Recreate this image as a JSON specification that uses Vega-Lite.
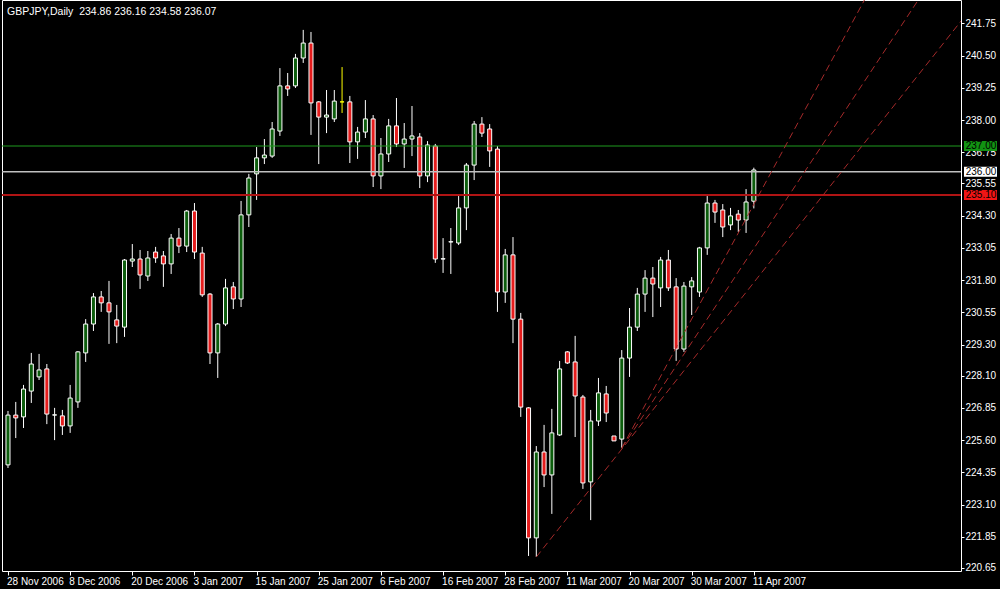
{
  "$schema": "https://vega.github.io/schema/vega-lite/v6.json",
  "width": 959,
  "height": 571,
  "autosize": {"type": "none"},
  "padding": {"left": 2, "top": 0, "right": 39, "bottom": 18},
  "background": "#000000",
  "config": {"view": {"stroke": "#ffffff", "strokeWidth": 1}, "font": "Liberation Sans",
    "axis": {"labelOverlap": false, "labelBound": false, "labelFlush": false, "grid": false}},
  "title": {"text": "GBPJPY,Daily\u00a0 234.86 236.16 234.58 236.07", "anchor": "start", "frame": "group", "color": "#ffffff", "font": "Liberation Sans", "fontSize": 10.5, "fontWeight": "normal", "baseline": "top", "offset": -5, "dx": 5, "dy": 12},
  "datasets": {
    "candles": [
      {"i":0,"date":"2006-11-28","open":224.64,"high":226.73,"low":224.52,"close":226.57},
      {"i":1,"date":"2006-11-29","open":226.57,"high":227.08,"low":225.68,"close":226.46},
      {"i":2,"date":"2006-11-30","open":226.50,"high":227.74,"low":226.07,"close":227.58},
      {"i":3,"date":"2006-12-01","open":227.50,"high":228.98,"low":227.04,"close":228.55},
      {"i":4,"date":"2006-12-04","open":228.05,"high":228.94,"low":227.93,"close":228.32},
      {"i":5,"date":"2006-12-05","open":228.36,"high":228.55,"low":226.22,"close":226.61},
      {"i":6,"date":"2006-12-06","open":226.57,"high":226.85,"low":225.60,"close":226.58},
      {"i":7,"date":"2006-12-07","open":226.54,"high":226.77,"low":225.80,"close":226.15},
      {"i":8,"date":"2006-12-08","open":226.15,"high":227.74,"low":225.88,"close":227.23},
      {"i":9,"date":"2006-12-11","open":227.08,"high":229.05,"low":226.85,"close":229.02},
      {"i":10,"date":"2006-12-12","open":228.98,"high":230.29,"low":228.63,"close":230.10},
      {"i":11,"date":"2006-12-13","open":230.10,"high":231.30,"low":229.83,"close":231.15},
      {"i":12,"date":"2006-12-14","open":231.15,"high":231.38,"low":230.57,"close":230.92},
      {"i":13,"date":"2006-12-15","open":230.92,"high":231.77,"low":229.33,"close":230.57},
      {"i":14,"date":"2006-12-18","open":230.26,"high":230.84,"low":229.36,"close":230.02},
      {"i":15,"date":"2006-12-19","open":229.98,"high":232.62,"low":229.60,"close":232.58},
      {"i":16,"date":"2006-12-20","open":232.54,"high":233.20,"low":232.31,"close":232.62},
      {"i":17,"date":"2006-12-21","open":232.62,"high":232.97,"low":231.46,"close":232.00},
      {"i":18,"date":"2006-12-22","open":231.96,"high":232.93,"low":231.77,"close":232.66},
      {"i":19,"date":"2006-12-26","open":232.89,"high":233.09,"low":232.47,"close":232.66},
      {"i":20,"date":"2006-12-27","open":232.74,"high":232.93,"low":231.54,"close":232.43},
      {"i":21,"date":"2006-12-28","open":232.43,"high":233.59,"low":232.04,"close":233.43},
      {"i":22,"date":"2006-12-29","open":233.43,"high":233.82,"low":232.85,"close":233.12},
      {"i":23,"date":"2007-01-02","open":233.12,"high":234.52,"low":232.89,"close":234.48},
      {"i":24,"date":"2007-01-03","open":234.48,"high":234.79,"low":232.62,"close":232.89},
      {"i":25,"date":"2007-01-04","open":232.85,"high":233.09,"low":231.15,"close":231.23},
      {"i":26,"date":"2007-01-05","open":231.26,"high":231.30,"low":228.55,"close":228.98},
      {"i":27,"date":"2007-01-08","open":228.98,"high":230.14,"low":228.01,"close":230.10},
      {"i":28,"date":"2007-01-09","open":230.10,"high":231.85,"low":230.02,"close":231.50},
      {"i":29,"date":"2007-01-10","open":231.54,"high":231.73,"low":230.68,"close":231.07},
      {"i":30,"date":"2007-01-11","open":231.07,"high":234.87,"low":230.76,"close":234.33},
      {"i":31,"date":"2007-01-12","open":234.33,"high":235.92,"low":233.86,"close":235.76},
      {"i":32,"date":"2007-01-15","open":235.92,"high":236.96,"low":234.91,"close":236.54},
      {"i":33,"date":"2007-01-16","open":236.54,"high":237.27,"low":236.30,"close":236.65},
      {"i":34,"date":"2007-01-17","open":236.61,"high":237.93,"low":236.54,"close":237.66},
      {"i":35,"date":"2007-01-18","open":237.58,"high":240.02,"low":237.39,"close":239.33},
      {"i":36,"date":"2007-01-19","open":239.33,"high":239.83,"low":238.94,"close":239.21},
      {"i":37,"date":"2007-01-22","open":239.33,"high":240.57,"low":239.25,"close":240.41},
      {"i":38,"date":"2007-01-23","open":240.41,"high":241.50,"low":240.22,"close":240.99},
      {"i":39,"date":"2007-01-24","open":240.99,"high":241.42,"low":237.43,"close":238.67},
      {"i":40,"date":"2007-01-25","open":238.71,"high":238.74,"low":236.30,"close":238.12},
      {"i":41,"date":"2007-01-26","open":238.12,"high":239.17,"low":237.50,"close":238.20},
      {"i":42,"date":"2007-01-29","open":238.05,"high":239.17,"low":237.93,"close":238.74},
      {"i":43,"date":"2007-01-30","open":238.71,"high":240.06,"low":238.28,"close":238.71},
      {"i":44,"date":"2007-01-31","open":238.71,"high":238.94,"low":236.34,"close":237.16},
      {"i":45,"date":"2007-02-01","open":237.16,"high":237.74,"low":236.50,"close":237.54},
      {"i":46,"date":"2007-02-02","open":237.54,"high":238.78,"low":237.31,"close":238.05},
      {"i":47,"date":"2007-02-05","open":238.05,"high":238.20,"low":235.41,"close":235.84},
      {"i":48,"date":"2007-02-06","open":235.84,"high":237.31,"low":235.33,"close":236.69},
      {"i":49,"date":"2007-02-07","open":236.69,"high":238.05,"low":236.38,"close":237.78},
      {"i":50,"date":"2007-02-08","open":237.78,"high":238.86,"low":236.96,"close":237.08},
      {"i":51,"date":"2007-02-09","open":237.08,"high":237.89,"low":236.15,"close":237.27},
      {"i":52,"date":"2007-02-12","open":237.27,"high":238.55,"low":236.61,"close":237.39},
      {"i":53,"date":"2007-02-13","open":237.35,"high":237.50,"low":235.37,"close":235.84},
      {"i":54,"date":"2007-02-14","open":235.84,"high":237.19,"low":235.60,"close":237.04},
      {"i":55,"date":"2007-02-15","open":237.00,"high":237.08,"low":232.47,"close":232.62},
      {"i":56,"date":"2007-02-16","open":232.62,"high":233.43,"low":232.08,"close":232.63},
      {"i":57,"date":"2007-02-19","open":233.28,"high":233.82,"low":232.04,"close":233.29},
      {"i":58,"date":"2007-02-20","open":233.24,"high":235.06,"low":233.16,"close":234.60},
      {"i":59,"date":"2007-02-21","open":234.60,"high":236.34,"low":233.74,"close":236.26},
      {"i":60,"date":"2007-02-22","open":236.26,"high":237.97,"low":235.68,"close":237.85},
      {"i":61,"date":"2007-02-23","open":237.85,"high":238.12,"low":237.35,"close":237.50},
      {"i":62,"date":"2007-02-26","open":237.66,"high":237.85,"low":236.19,"close":236.81},
      {"i":63,"date":"2007-02-27","open":236.88,"high":237.00,"low":230.57,"close":231.34},
      {"i":64,"date":"2007-02-28","open":231.34,"high":233.01,"low":230.92,"close":232.78},
      {"i":65,"date":"2007-03-01","open":232.78,"high":233.47,"low":229.36,"close":230.29},
      {"i":66,"date":"2007-03-02","open":230.29,"high":230.53,"low":226.50,"close":226.88},
      {"i":67,"date":"2007-03-05","open":226.85,"high":226.88,"low":221.11,"close":221.81},
      {"i":68,"date":"2007-03-06","open":221.81,"high":225.37,"low":221.07,"close":225.14},
      {"i":69,"date":"2007-03-07","open":225.14,"high":226.19,"low":223.78,"close":224.25},
      {"i":70,"date":"2007-03-08","open":224.25,"high":226.81,"low":222.74,"close":225.88},
      {"i":71,"date":"2007-03-09","open":225.80,"high":228.67,"low":225.76,"close":228.36},
      {"i":72,"date":"2007-03-11","open":229.02,"high":229.05,"low":228.55,"close":228.59},
      {"i":73,"date":"2007-03-12","open":228.63,"high":229.64,"low":225.72,"close":227.31},
      {"i":74,"date":"2007-03-13","open":227.27,"high":227.35,"low":223.71,"close":223.94},
      {"i":75,"date":"2007-03-14","open":223.98,"high":226.77,"low":222.50,"close":226.34},
      {"i":76,"date":"2007-03-15","open":226.34,"high":228.01,"low":226.15,"close":227.43},
      {"i":77,"date":"2007-03-16","open":227.39,"high":227.70,"low":226.30,"close":226.65},
      {"i":78,"date":"2007-03-18","open":225.76,"high":225.76,"low":225.57,"close":225.57},
      {"i":79,"date":"2007-03-19","open":225.64,"high":229.09,"low":225.29,"close":228.78},
      {"i":80,"date":"2007-03-20","open":228.78,"high":230.72,"low":228.05,"close":229.98},
      {"i":81,"date":"2007-03-21","open":229.98,"high":231.50,"low":229.83,"close":231.26},
      {"i":82,"date":"2007-03-22","open":231.26,"high":232.19,"low":230.57,"close":231.88},
      {"i":83,"date":"2007-03-23","open":231.88,"high":232.31,"low":230.37,"close":231.65},
      {"i":84,"date":"2007-03-26","open":231.50,"high":232.70,"low":230.76,"close":232.58},
      {"i":85,"date":"2007-03-27","open":232.58,"high":232.97,"low":231.38,"close":231.50},
      {"i":86,"date":"2007-03-28","open":231.54,"high":231.88,"low":228.67,"close":229.13},
      {"i":87,"date":"2007-03-29","open":229.13,"high":231.73,"low":229.02,"close":231.57},
      {"i":88,"date":"2007-03-30","open":231.54,"high":231.92,"low":230.45,"close":231.77},
      {"i":89,"date":"2007-04-02","open":231.34,"high":233.09,"low":231.15,"close":233.05},
      {"i":90,"date":"2007-04-03","open":233.05,"high":235.06,"low":232.78,"close":234.79},
      {"i":91,"date":"2007-04-04","open":234.79,"high":234.91,"low":234.02,"close":234.44},
      {"i":92,"date":"2007-04-05","open":234.52,"high":234.75,"low":233.47,"close":233.86},
      {"i":93,"date":"2007-04-06","open":233.94,"high":234.60,"low":233.74,"close":234.29},
      {"i":94,"date":"2007-04-09","open":234.36,"high":234.52,"low":233.67,"close":234.13},
      {"i":95,"date":"2007-04-10","open":234.13,"high":235.33,"low":233.63,"close":234.83},
      {"i":96,"date":"2007-04-11","open":234.86,"high":236.16,"low":234.58,"close":236.07}
    ],
    "levels": [
      {"kind": "resistance", "price": 237.00},
      {"kind": "bid", "price": 236.00},
      {"kind": "support", "price": 235.10}
    ],
    "trend": [
      {"line": "t1", "i": 68, "price": 221.07},
      {"line": "t1", "i": 126, "price": 243.11},
      {"line": "t2", "i": 79, "price": 225.29},
      {"line": "t2", "i": 120, "price": 243.95},
      {"line": "t3", "i": 79, "price": 225.29},
      {"line": "t3", "i": 112, "price": 243.64}
    ]
  },
  "layer": [
    {
      "data": {"name": "candles"},
      "mark": {"type": "rule", "strokeWidth": 1},
      "encoding": {
        "x": {"field": "i", "type": "quantitative",
          "scale": {"domain": [-0.1275, 122.02], "nice": false, "zero": false},
          "axis": {"values": [0, 8, 16, 24, 32, 40, 48, 56, 64, 72, 80, 88, 96], "tickCount": 40,
            "labelExpr": "['28 Nov 2006','8 Dec 2006','20 Dec 2006','3 Jan 2007','15 Jan 2007','25 Jan 2007','6 Feb 2007','16 Feb 2007','28 Feb 2007','11 Mar 2007','20 Mar 2007','30 Mar 2007','11 Apr 2007'][round(datum.value/8)]",
            "domain": false, "grid": false, "ticks": true, "tickColor": "#ffffff", "tickSize": 4,
            "labelColor": "#ffffff", "labelFont": "Liberation Sans", "labelFontSize": 10,
            "labelAlign": "left", "labelBaseline": "top", "labelPadding": 1, "labelOffset": -1.5,
            "labelOverlap": false, "labelBound": false, "labelFlush": false, "title": null}},
        "y": {"field": "low", "type": "quantitative",
          "scale": {"domain": [220.527, 242.659], "nice": false, "zero": false},
          "axis": {"orient": "right", "tickCount": 40,
            "values": [241.75, 240.5, 239.25, 238, 236.75, 235.55, 234.3, 233.05, 231.8, 230.55, 229.3, 228.1, 226.85, 225.6, 224.35, 223.1, 221.85, 220.65],
            "format": ".2f", "domain": false, "grid": false, "tickColor": "#ffffff", "tickSize": 3,
            "labelColor": "#ffffff", "labelFont": "Liberation Sans", "labelFontSize": 10, "labelPadding": 1,
            "labelOverlap": false, "labelBound": false, "labelFlush": false, "title": null}},
        "y2": {"field": "high"},
        "color": {"condition": {"test": "datum.open == datum.close", "value": "#ffff00"}, "value": "#ffffff"}
      }
    },
    {
      "data": {"name": "candles"},
      "mark": {"type": "bar", "width": 4, "strokeWidth": 1},
      "encoding": {
        "x": {"field": "i", "type": "quantitative"},
        "y": {"field": "open", "type": "quantitative"},
        "y2": {"field": "close"},
        "fill": {"condition": {"test": "datum.close >= datum.open", "value": "#0d5e0d"}, "value": "#e51d1d"},
        "stroke": {"condition": {"test": "datum.open == datum.close", "value": "#ffff00"}, "value": "#ffffff"}
      }
    },
    {
      "data": {"name": "levels"},
      "mark": {"type": "rule"},
      "encoding": {
        "y": {"field": "price", "type": "quantitative"},
        "color": {"field": "kind", "type": "nominal", "legend": null,
          "scale": {"domain": ["resistance", "bid", "support"], "range": ["#1f9a1f", "#c0c0c0", "#b01414"]}},
        "strokeWidth": {"field": "kind", "type": "nominal", "legend": null,
          "scale": {"domain": ["resistance", "bid", "support"], "range": [1, 2, 1.2]}}
      }
    },
    {
      "data": {"name": "trend"},
      "mark": {"type": "line", "clip": true, "strokeWidth": 1, "strokeDash": [7, 4], "color": "#a52a2a"},
      "encoding": {
        "x": {"field": "i", "type": "quantitative"},
        "y": {"field": "price", "type": "quantitative"},
        "detail": {"field": "line", "type": "nominal"}
      }
    },
    {
      "data": {"name": "levels"},
      "mark": {"type": "point", "shape": "M0.3,-0.5H3.6V0.5H0.3Z", "size": 400, "filled": true, "opacity": 1, "strokeWidth": 0, "x": "width", "clip": false},
      "encoding": {
        "y": {"field": "price", "type": "quantitative"},
        "fill": {"field": "kind", "type": "nominal", "legend": null,
          "scale": {"domain": ["resistance", "bid", "support"], "range": ["#129312", "#ffffff", "#f01515"]}}
      }
    },
    {
      "data": {"name": "levels"},
      "mark": {"type": "text", "x": "width", "dx": 20, "align": "center", "baseline": "middle", "font": "Liberation Sans", "fontSize": 10, "color": "#000000", "clip": false},
      "encoding": {
        "y": {"field": "price", "type": "quantitative"},
        "text": {"field": "price", "type": "quantitative", "format": ".2f"}
      }
    }
  ]
}
